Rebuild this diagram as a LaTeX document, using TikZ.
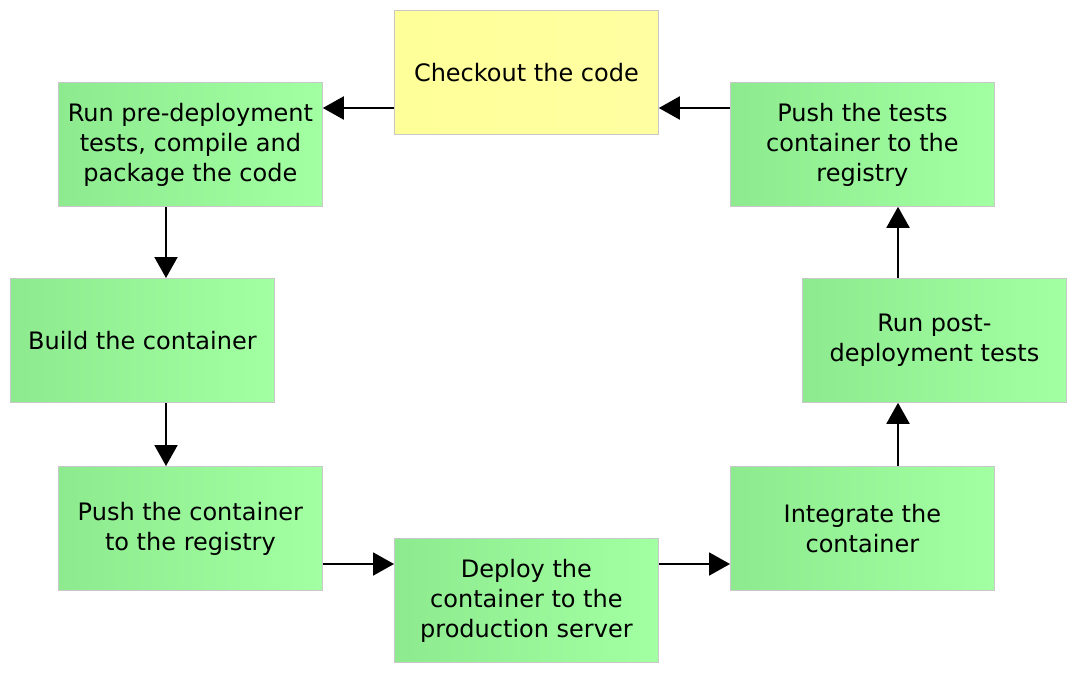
\documentclass[tikz,border=0pt]{standalone}
\usepackage{fontspec}
\setmainfont{DejaVu Sans}
\usetikzlibrary{arrows.meta}
\definecolor{gL}{RGB}{142,234,142}
\definecolor{gR}{RGB}{162,255,162}
\definecolor{yL}{RGB}{255,255,153}
\definecolor{yR}{RGB}{255,255,162}
\definecolor{edge}{RGB}{200,200,200}
\tikzset{
  stepbox/.style={anchor=north west, minimum width=264pt, minimum height=124pt,
    inner sep=0pt, align=center, draw=edge, line width=0.8pt,
    font=\fontsize{24pt}{30pt}\selectfont, text=black},
  greenbox/.style={stepbox, left color=gL, right color=gR},
  yellowbox/.style={stepbox, left color=yL, right color=yR},
  flow/.style={line width=2pt, -{Triangle[length=21pt,width=23pt]}}
}
\begin{document}
\begin{tikzpicture}[x=1pt,y=-1pt]
\useasboundingbox (0,0) rectangle (1078,674);
\node[yellowbox] (checkout) at (394,10) {Checkout the code};
\node[greenbox] (pre) at (58,82) {Run pre-deployment\\tests, compile and\\package the code};
\node[greenbox] (pushtests) at (730,82) {Push the tests\\container to the\\registry};
\node[greenbox] (build) at (10,278) {Build the container};
\node[greenbox] (post) at (802,278) {Run post-\\deployment tests};
\node[greenbox] (pushc) at (58,466) {Push the container\\to the registry};
\node[greenbox] (integrate) at (730,466) {Integrate the\\container};
\node[greenbox] (deploy) at (394,538) {Deploy the\\container to the\\production server};
\coordinate (rowtop) at (0,108);
\coordinate (rowbot) at (0,564);
\coordinate (colL) at (166,0);
\coordinate (colR) at (898,0);
\draw[flow] (checkout.west |- rowtop) -- (pre.east |- rowtop);
\draw[flow] (pushtests.west |- rowtop) -- (checkout.east |- rowtop);
\draw[flow] (colL |- pre.south) -- (colL |- build.north);
\draw[flow] (colL |- build.south) -- (colL |- pushc.north);
\draw[flow] (pushc.east |- rowbot) -- (deploy.west |- rowbot);
\draw[flow] (deploy.east |- rowbot) -- (integrate.west |- rowbot);
\draw[flow] (colR |- integrate.north) -- (colR |- post.south);
\draw[flow] (colR |- post.north) -- (colR |- pushtests.south);
\end{tikzpicture}
\end{document}
